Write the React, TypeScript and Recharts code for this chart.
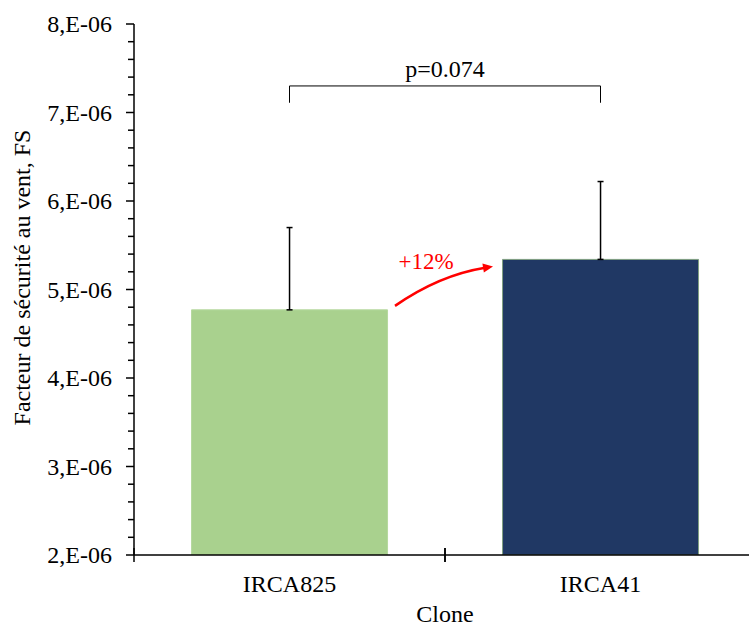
import React from 'react';
import { BarChart, Bar, XAxis, YAxis, Cell, ErrorBar, ReferenceLine } from 'recharts';

const categories = ['IRCA825', 'IRCA41'];
const meanFS = [4.77e-6, 5.34e-6];
const errFS = [0.93e-6, 0.88e-6];
const barColors = ['#A9D18E', '#203864'];
const barStrokes = ['#B5D89E', '#7F9F80'];
const yTicks = Array.from({ length: 31 }, (_, i) => ((20 + i * 2) / 10) * 1e-6);
const bracketY = 7.3e-6;
const bracketLegY = 7.11e-6;
const pLabel = 'p=0.074';
const changeLabel = '+12%';
const yTitle = 'Facteur de sécurité au vent, FS';
const xTitle = 'Clone';

const data = categories.map((c, i) => ({ clone: c, fs: meanFS[i], err: [0, errFS[i]] }));

const FONT = 'Liberation Serif, Times New Roman, DejaVu Serif, serif';
const txt = (size: number, color = '#000') => ({ fontFamily: FONT, fontSize: size, fill: color });

const YTick = (props: any) => {
  const { x, y, payload } = props;
  const v = payload.value * 1e6;
  const major = Math.abs(v - Math.round(v)) < 1e-6;
  return (
    <g>
      <line x1={x - (major ? 8 : 6)} x2={x} y1={y} y2={y} stroke="#000" strokeWidth={1.5} />
      {major && (
        <text x={x - 22} y={y} textAnchor="end" dominantBaseline="central" style={txt(24)}>
          {`${Math.round(v)},E-06`}
        </text>
      )}
    </g>
  );
};

const XTick = (props: any) => {
  const { x, y, payload } = props;
  const off = payload.offset ?? 155.5;
  return (
    <g>
      <line x1={x - off} x2={x - off} y1={y - 7} y2={y + 7} stroke="#000" strokeWidth={1.5} />
      <line x1={x + off} x2={x + off} y1={y - 7} y2={y + 7} stroke="#000" strokeWidth={1.5} />
      <text x={x} y={y + 37} textAnchor="middle" style={txt(24)}>
        {payload.value}
      </text>
    </g>
  );
};

const YTitle = (props: any) => {
  const vb = props.viewBox || { x: 34, y: 24, width: 100, height: 531 };
  const cx = vb.x - 12;
  const cy = vb.y + vb.height / 2 - 12;
  return (
    <text x={cx} y={cy} transform={`rotate(-90, ${cx}, ${cy})`} textAnchor="middle" dominantBaseline="central" style={txt(24)}>
      {yTitle}
    </text>
  );
};

const XTitle = (props: any) => {
  const vb = props.viewBox || { x: 134, y: 555, width: 622, height: 71 };
  return (
    <text x={vb.x + vb.width / 2} y={vb.y + 67} textAnchor="middle" style={txt(24)}>
      {xTitle}
    </text>
  );
};

const BracketTop = (p: any) => (
  <g>
    <line x1={p.x1} y1={p.y1} x2={p.x2} y2={p.y2} stroke="#000" strokeWidth={1} />
    <text x={(p.x1 + p.x2) / 2} y={p.y1 - 9} textAnchor="middle" style={txt(24)}>
      {pLabel}
    </text>
  </g>
);

const ArrowShape = (p: any) => {
  const sx = p.x1 + 105.5;
  const sy = p.y1 - 4;
  const ex = p.x2 - 107.5;
  const ey = p.y2 + 7;
  const cx = (sx + ex) / 2 - 5;
  const cy = (sy + ey) / 2 - 11;
  const dx = ex - cx;
  const dy = ey - cy;
  const len = Math.sqrt(dx * dx + dy * dy);
  const ux = dx / len;
  const uy = dy / len;
  const nx = -uy;
  const ny = ux;
  const hl = 10;
  const hw = 4.5;
  const bx = ex - ux * hl;
  const by = ey - uy * hl;
  return (
    <g>
      <path d={`M${sx},${sy} Q${cx},${cy} ${bx + ux * 2},${by + uy * 2}`} fill="none" stroke="#FF0000" strokeWidth={2.5} />
      <polygon points={`${ex},${ey} ${bx + nx * hw},${by + ny * hw} ${bx - nx * hw},${by - ny * hw}`} fill="#FF0000" />
      <text x={sx + 31} y={sy - 37} textAnchor="middle" style={txt(23, '#FF0000')}>
        {changeLabel}
      </text>
    </g>
  );
};

export default function App() {
  return (
    <div style={{ position: 'absolute', left: 0, top: 0, width: 749, height: 626, overflow: 'hidden', background: '#fff', fontFamily: FONT }}>
      <BarChart
        width={760}
        height={626}
        data={data}
        margin={{ top: 24, right: 4, left: 34, bottom: 0 }}
        barCategoryGap="18.5%"
        style={{ fontFamily: FONT }}
      >
        <XAxis
          dataKey="clone"
          height={71}
          tickLine={false}
          tickSize={0}
          tickMargin={0}
          axisLine={{ stroke: '#000', strokeWidth: 1.5 }}
          tick={<XTick />}
          interval={0}
          label={<XTitle />}
        />
        <YAxis
          width={100}
          domain={[2e-6, 8e-6]}
          ticks={yTicks}
          interval={0}
          allowDataOverflow
          tickLine={false}
          tickSize={0}
          tickMargin={0}
          axisLine={{ stroke: '#000', strokeWidth: 1.5 }}
          tick={<YTick />}
          label={<YTitle />}
        />
        <Bar dataKey="fs" isAnimationActive={false}>
          {data.map((d, i) => (
            <Cell key={d.clone} fill={barColors[i]} stroke={barStrokes[i]} strokeWidth={1} />
          ))}
          <ErrorBar dataKey="err" direction="y" width={3} stroke="#000" strokeWidth={1.5} isAnimationActive={false} />
        </Bar>
        <ReferenceLine
          segment={[{ x: categories[0], y: bracketY }, { x: categories[1], y: bracketY }]}
          shape={<BracketTop />}
        />
        <ReferenceLine
          segment={[{ x: categories[0], y: bracketY }, { x: categories[0], y: bracketLegY }]}
          stroke="#000"
          strokeWidth={1}
        />
        <ReferenceLine
          segment={[{ x: categories[1], y: bracketY }, { x: categories[1], y: bracketLegY }]}
          stroke="#000"
          strokeWidth={1}
        />
        <ReferenceLine
          segment={[{ x: categories[0], y: meanFS[0] }, { x: categories[1], y: meanFS[1] }]}
          shape={<ArrowShape />}
        />
      </BarChart>
    </div>
  );
}
